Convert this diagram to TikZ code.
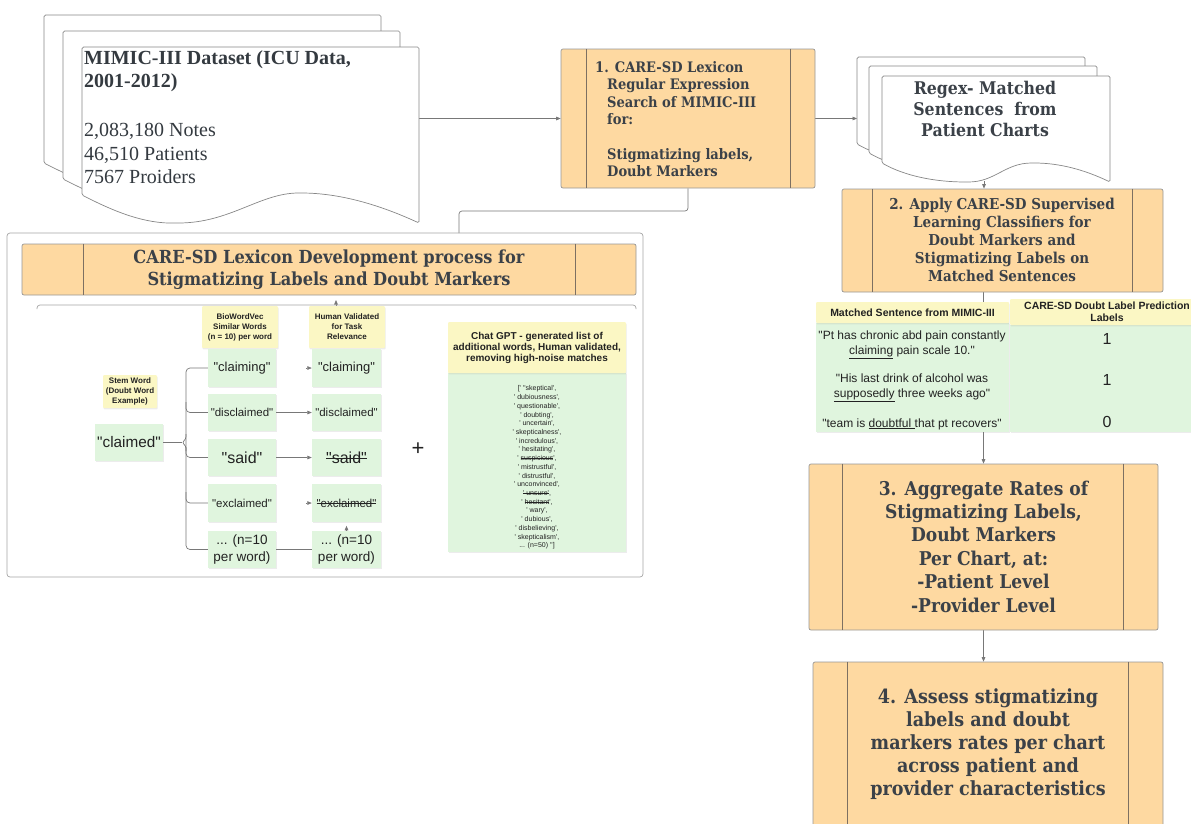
\documentclass[tikz,border=0pt]{standalone}
\usepackage{fontspec}
\setmainfont{Liberation Serif}
\setsansfont{Liberation Sans}[Ligatures=TeXOff]
\newfontfamily\stepfont{DejaVu Serif}[FakeStretch=0.9]
\usetikzlibrary{arrows.meta,shadows,calc}
\newcommand\fsz[2]{\fontsize{#1}{#2}\selectfont}
\newcommand\strk[1]{\setbox0\hbox{#1}\leavevmode\rlap{\rule[0.3em]{\wd0}{0.5pt}}\box0}
\newcommand\undl[1]{\underline{#1}}
\newcommand\ind{\hspace*{12pt}}
\definecolor{orangefill}{RGB}{254,217,161}
\definecolor{boxborder}{RGB}{150,150,150}
\definecolor{innerc}{RGB}{125,112,98}
\definecolor{yellowc}{RGB}{251,247,196}
\definecolor{greenc}{RGB}{224,245,222}
\definecolor{conc}{RGB}{120,120,120}
\definecolor{stepc}{RGB}{59,65,72}
\definecolor{textc}{RGB}{34,34,34}
\definecolor{pageborder}{RGB}{135,135,135}
\definecolor{lexborder}{RGB}{165,165,165}
\definecolor{mimtext}{RGB}{52,58,64}
\pgfdeclarelayer{bg}
\pgfsetlayers{bg,main}
\begin{document}
\begin{tikzpicture}[x=1pt,y=-1pt,
  stepbox/.style={draw=boxborder, fill=orangefill, rounded corners=2pt, line width=0.7pt, inner sep=0pt},
  innerline/.style={draw=innerc, line width=0.7pt},
  steptext/.style={text=stepc, align=center, inner sep=0pt},
  page/.style={draw=pageborder, fill=white, line width=0.7pt, rounded corners=1.5pt},
  conn/.style={draw=conc, line width=0.7pt},
  arr/.style={conn, -{Triangle[length=4.5pt,width=3.6pt]}},
  note/.style={inner sep=0pt, text=textc, align=center, drop shadow={opacity=0.15, shadow xshift=0.6pt, shadow yshift=-1.4pt}},
  ynote/.style={note, fill=yellowc, rounded corners=1pt},
  gnote/.style={note, fill=greenc},
  ntext/.style={text=textc, align=center, inner sep=0pt},
]
\useasboundingbox (0,0) rectangle (1191,823);
\clip (0,0) rectangle (1191,823);

% ---------- MIMIC document stack
\foreach \dx/\dy in {-38/-32,-19/-16,0/0}{
  \begin{scope}[shift={(\dx,\dy)}]
    \draw[page] (82,195) -- (82,47) -- (419,47) -- (419,223)
      .. controls (380,205) and (340,193) .. (300,193)
      .. controls (260,193) and (230,223) .. (177,223)
      .. controls (145,224) and (115,212) .. (82,195) -- cycle;
  \end{scope}}
\node[inner sep=0pt, minimum width=337pt, minimum height=176pt] (mimic) at (250.5,135) {};
\node[anchor=north west, inner sep=0pt, align=left, text=mimtext, font=\bfseries\fsz{20}{23}] (mimtitle) at (84,50) {MIMIC-III Dataset (ICU Data,\\2001-2012)};
\node[anchor=north west, inner sep=0pt, align=left, text=mimtext, font=\fsz{20}{23.5}] (mimbody) at (84,123) {2,083,180 Notes\\46,510 Patients\\7567 Proiders};

% ---------- Step 1
\node[stepbox, minimum width=254pt, minimum height=139pt] (b1) at (688,118.5) {};
\draw[innerline] ([xshift=26pt]b1.north west) -- ([xshift=26pt]b1.south west);
\draw[innerline] ([xshift=-25pt]b1.north east) -- ([xshift=-25pt]b1.south east);
\node[steptext, align=left, anchor=west, font=\stepfont\bfseries\fsz{14.5}{17.4}] (t1) at (595,119)
  {1. CARE-SD Lexicon\\\ind Regular Expression\\\ind Search of MIMIC-III\\\ind for:\\[17.4pt]\ind Stigmatizing labels,\\\ind Doubt Markers};

% ---------- Regex stack
\foreach \dx/\dy in {-25/-19,-13/-10,0/0}{
  \begin{scope}[shift={(\dx,\dy)}]
    \draw[page] (882,163) -- (882,76) -- (1110,76) -- (1110,182)
      .. controls (1085,170) and (1060,163) .. (1033,163)
      .. controls (1005,163) and (995,182) .. (967,182)
      .. controls (935,182) and (905,176) .. (882,163) -- cycle;
  \end{scope}}
\node[inner sep=0pt, minimum width=228pt, minimum height=106pt] (regex) at (996,129) {};
\coordinate (regexback) at (857,118.5);
\coordinate (regexbot) at (984,181);
\node[steptext, font=\stepfont\bfseries\fsz{17.5}{21}] (tregex) at (985,109) {Regex- Matched\\Sentences~ from\\Patient Charts};

% ---------- Step 2
\node[stepbox, minimum width=321pt, minimum height=103pt] (b2) at (1002.5,240.5) {};
\draw[innerline] ([xshift=31pt]b2.north west) -- ([xshift=31pt]b2.south west);
\draw[innerline] ([xshift=-31pt]b2.north east) -- ([xshift=-31pt]b2.south east);
\node[steptext, font=\stepfont\bfseries\fsz{15}{18}] (t2) at (1002,240) {2. Apply CARE-SD Supervised\\Learning Classifiers for\\Doubt Markers and\\Stigmatizing Labels on\\Matched Sentences};

% ---------- Table
\node[gnote, minimum width=193pt, minimum height=109pt] (tg1) at (912.5,377.5) {};
\node[gnote, minimum width=194pt, minimum height=107pt] (tg2) at (1107,378.5) {};
\node[ynote, minimum width=193pt, minimum height=21pt, font=\sffamily\bfseries\fsz{10.5}{12}] (th1) at (912.5,312.5) {Matched Sentence from MIMIC-III};
\node[ynote, minimum width=194pt, minimum height=26pt, font=\sffamily\bfseries\fsz{10.5}{12}] (th2) at (1107,312) {CARE-SD Doubt Label Prediction\\Labels};
\node[ntext, font=\sffamily\fsz{12}{15}] (s1) at (912,344.5) {"Pt has chronic abd pain constantly\\\undl{claiming} pain scale 10."};
\node[ntext, font=\sffamily\fsz{12}{15}] (s2) at (912,387.5) {"His last drink of alcohol was\\\undl{supposedly} three weeks ago"};
\node[ntext, font=\sffamily\fsz{12}{15}] (s3) at (912,424) {"team is \undl{doubtful\ }that pt recovers"};
\node[ntext, font=\sffamily\fsz{16}{18}] (v1) at (1107,339) {1};
\node[ntext, font=\sffamily\fsz{16}{18}] (v2) at (1107,380) {1};
\node[ntext, font=\sffamily\fsz{16}{18}] (v3) at (1107,422) {0};

% ---------- Step 3
\node[stepbox, minimum width=349pt, minimum height=166pt] (b3) at (983.5,547) {};
\draw[innerline] ([xshift=34pt]b3.north west) -- ([xshift=34pt]b3.south west);
\draw[innerline] ([xshift=-35pt]b3.north east) -- ([xshift=-35pt]b3.south east);
\node[steptext, font=\stepfont\bfseries\fsz{19}{23.4}] (t3) at (983.5,546.5) {3. Aggregate Rates of\\Stigmatizing Labels,\\Doubt Markers\\Per Chart, at:\\-Patient Level\\-Provider Level};

% ---------- Step 4
\node[stepbox, minimum width=350pt, minimum height=188pt] (b4) at (988,756) {};
\draw[innerline] ([xshift=35pt]b4.north west) -- ([xshift=35pt]b4.south west);
\draw[innerline] ([xshift=-35pt]b4.north east) -- ([xshift=-35pt]b4.south east);
\node[steptext, font=\stepfont\bfseries\fsz{19.5}{23}] (t4) at (988,744) {4. Assess stigmatizing\\labels and doubt\\markers rates per chart\\across patient and\\provider characteristics};

% ---------- Lexicon development panel
\node[draw=lexborder, rounded corners=3pt, line width=0.7pt, minimum width=636pt, minimum height=344pt, inner sep=0pt] (lex) at (325,405) {};
\coordinate (lexin) at (459,233);
\node[stepbox, minimum width=614pt, minimum height=51pt] (hdr) at (329,269.5) {};
\draw[innerline] ([xshift=62pt]hdr.north west) -- ([xshift=62pt]hdr.south west);
\draw[innerline] ([xshift=-61pt]hdr.north east) -- ([xshift=-61pt]hdr.south east);
\node[steptext, font=\stepfont\bfseries\fsz{18}{22}] (thdr) at (329,269.5) {CARE-SD Lexicon Development process for\\Stigmatizing Labels and Doubt Markers};
\draw[draw=lexborder, line width=0.7pt, rounded corners=3pt] (37,309) -- (37,305) -- (636,305) -- (636,309);
\coordinate (hvtop) at (336,300);

\node[ynote, minimum width=54pt, minimum height=33pt, font=\sffamily\bfseries\fsz{8}{10}] (sw) at (130,391.5) {Stem Word\\(Doubt Word\\Example)};
\node[gnote, minimum width=68pt, minimum height=37pt, font=\sffamily\fsz{15.3}{17}] (cl) at (129,442.5) {"claimed"};

\node[ynote, minimum width=76pt, minimum height=42pt, font=\sffamily\bfseries\fsz{8}{10}] (h1) at (240,327) {BioWordVec\\Similar Words\\(n = 10) per word};
\node[ynote, minimum width=76pt, minimum height=42pt, font=\sffamily\bfseries\fsz{8}{10}] (h2) at (347,327) {Human Validated\\for Task\\Relevance};

\node[gnote, minimum width=68pt, minimum height=38pt, font=\sffamily\fsz{13}{15}] (c1a) at (242,368) {"claiming"};
\node[gnote, minimum width=68pt, minimum height=37pt, font=\sffamily\fsz{11.5}{13}] (c1b) at (242,412.5) {"disclaimed"};
\node[gnote, minimum width=68pt, minimum height=37pt, font=\sffamily\fsz{16}{18}] (c1c) at (242,457.5) {"said"};
\node[gnote, minimum width=68pt, minimum height=38pt, font=\sffamily\fsz{11.5}{13}] (c1d) at (242,503) {"exclaimed"};
\node[gnote, minimum width=68pt, minimum height=37pt, font=\sffamily\fsz{13.5}{17}] (c1e) at (242,549.5) {... (n=10\\per word)};

\node[gnote, minimum width=69pt, minimum height=38pt, font=\sffamily\fsz{13}{15}] (c2a) at (346.5,368) {"claiming"};
\node[gnote, minimum width=69pt, minimum height=37pt, font=\sffamily\fsz{11.5}{13}] (c2b) at (346.5,412.5) {"disclaimed"};
\node[gnote, minimum width=69pt, minimum height=37pt, font=\sffamily\fsz{16}{18}] (c2c) at (346.5,457.5) {\strk{"said"}};
\node[gnote, minimum width=69pt, minimum height=38pt, font=\sffamily\fsz{11.5}{13}] (c2d) at (346.5,503) {\strk{"exclaimed"}};
\node[gnote, minimum width=69pt, minimum height=37pt, font=\sffamily\fsz{13.5}{17}] (c2e) at (346.5,549.5) {... (n=10\\per word)};

\node[ntext, font=\sffamily\fsz{22}{24}] (plus) at (418,449) {+};

\node[gnote, minimum width=178pt, minimum height=179pt] (gl) at (537,462.5) {};
\node[ynote, minimum width=178pt, minimum height=51pt, font=\sffamily\bfseries\fsz{10}{11}] (gh) at (537,347.5) {Chat GPT - generated list of\\additional words, Human validated,\\removing high-noise matches};
\node[ntext, font=\sffamily\fsz{7}{8.72}] (glt) at (537,467.5) {[' ''skeptical',\\' dubiousness',\\' questionable',\\' doubting',\\' uncertain',\\' skepticalness',\\' incredulous',\\' hesitating',\\' \strk{suspicious}',\\' mistrustful',\\' distrustful',\\' unconvinced',\\\strk{' unsure'},\\' \strk{hesitant}',\\' wary',\\' dubious',\\' disbelieving',\\' skepticalism',\\... (n=50) '']};

% ---------- connectors (behind)
\begin{pgfonlayer}{bg}
\draw[arr] (mimic.east |- b1.west) -- (b1.west);
\draw[arr] (b1.east) -- (regexback);
\draw[arr] (regexbot) -- (regexbot |- b2.north);
\draw[arr] (b2.south -| b3.north) -- (b3.north);
\draw[arr] (b3.south) -- (b3.south |- b4.north);
\draw[conn, rounded corners=3pt] (b1.south) -- (b1.south |- 0,211) -- (lexin |- 0,211) -- (lexin);
\draw[arr] (h2.north -| hvtop) -- (hvtop);
% bracket
\draw[conn] (cl.east) -- (182,442.5);
\draw[conn, rounded corners=2.5pt] (186,434) -- (186,439) -- (182,442.5) -- (186,446) -- (186,451);
\draw[conn, rounded corners=4pt] (c1a.west) -- (186,368) -- (186,549.5) -- (c1e.west);
\draw[conn, rounded corners=4pt] (186,402) -- (186,412.5) -- (c1b.west);
\draw[conn, rounded corners=4pt] (186,447) -- (186,457.5) -- (c1c.west);
\draw[conn, rounded corners=4pt] (186,492) -- (186,503) -- (c1d.west);
% column arrows
\draw[arr] ([xshift=-6pt]c2a.west) -- (c2a.west);
\draw[arr] (c1b.east) -- (c2b.west);
\draw[arr] (c1c.east) -- (c2c.west);
\draw[arr] ([xshift=-6pt]c2d.west) -- (c2d.west);
\draw[conn] (c1e.east) -- (c2e.west);
\draw[arr] (c2e.north) -- ([yshift=5pt]c2e.north);
\end{pgfonlayer}
\end{tikzpicture}
\end{document}
